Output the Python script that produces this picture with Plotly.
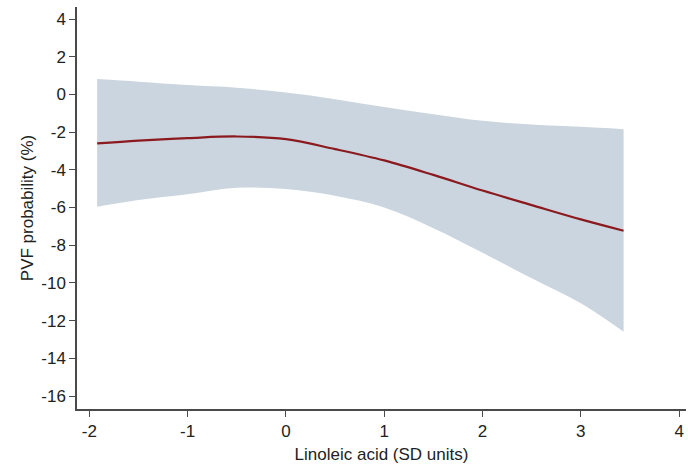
import plotly.graph_objects as go

x_vals = [-1.92, -1.5, -1.0, -0.5, 0.0, 0.5, 1.0, 1.5, 2.0, 2.5, 3.0, 3.435]
estimate = [-2.6, -2.45, -2.32, -2.23, -2.37, -2.9, -3.5, -4.27, -5.1, -5.87, -6.63, -7.23]
upper_ci = [0.82, 0.68, 0.5, 0.36, 0.1, -0.25, -0.67, -1.05, -1.4, -1.6, -1.72, -1.84]
lower_ci = [-5.96, -5.6, -5.3, -4.95, -5.02, -5.38, -6.0, -7.1, -8.4, -9.75, -11.08, -12.59]

x_ticks = [-2, -1, 0, 1, 2, 3, 4]
y_ticks = [4, 2, 0, -2, -4, -6, -8, -10, -12, -14, -16]

band_color = "#cbd5df"
line_color = "#8b1a1f"
axis_color = "#4a4a4a"
font_family = "Liberation Sans, Arial, sans-serif"

fig = go.Figure()
fig.add_trace(go.Scatter(x=x_vals, y=lower_ci, mode="lines",
                         line=dict(width=0, shape="spline", color=band_color),
                         showlegend=False, hoverinfo="skip"))
fig.add_trace(go.Scatter(x=x_vals, y=upper_ci, mode="lines", fill="tonexty",
                         fillcolor=band_color,
                         line=dict(width=0, shape="spline", color=band_color),
                         showlegend=False, hoverinfo="skip"))
fig.add_trace(go.Scatter(x=x_vals, y=estimate, mode="lines",
                         line=dict(width=2.2, shape="spline", color=line_color),
                         showlegend=False))

fig.update_layout(
    width=688, height=470,
    margin=dict(l=77, r=2, t=7, b=61),
    paper_bgcolor="white", plot_bgcolor="white",
    font=dict(family=font_family, size=17, color="#222222"),
    xaxis=dict(range=[-2.125, 4.07], tickvals=x_ticks, ticktext=[str(v) for v in x_ticks],
               showgrid=False, zeroline=False, showline=True, linecolor=axis_color, linewidth=1.5,
               ticks="outside", ticklen=6, tickwidth=1.2, tickcolor=axis_color,
               tickfont=dict(size=17),
               title=dict(text="Linoleic acid (SD units)", standoff=8, font=dict(size=17))),
    yaxis=dict(range=[-16.69, 4.64], tickvals=y_ticks, ticktext=[str(v) for v in y_ticks],
               showgrid=False, zeroline=False, showline=True, linecolor=axis_color, linewidth=1.5,
               ticks="outside", ticklen=6, tickwidth=1.2, tickcolor=axis_color,
               tickfont=dict(size=17),
               title=dict(text="PVF probability (%)", standoff=3, font=dict(size=17))),
)

fig.write_html("out.html")
